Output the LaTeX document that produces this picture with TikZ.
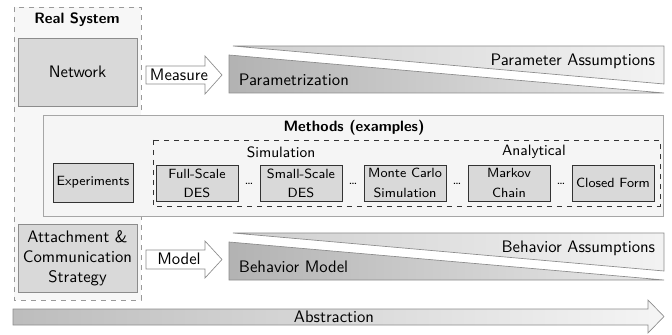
\documentclass[tikz,border=0pt]{standalone}
\usepackage{tikz}
\usetikzlibrary{calc}
\usetikzlibrary{positioning}

\begin{document}
\begin{tikzpicture}[x=0.6pt,y=-0.6pt,font=\sffamily,
    sysbox/.style={draw=gray!90, fill=gray!30, align=center, inner sep=0pt,
      minimum width=71.4pt, minimum height=40.8pt},
    methbox/.style={draw=black!80, fill=gray!30, align=center, inner sep=0pt,
      font=\sffamily\footnotesize, minimum width=49.2pt, minimum height=21.6pt},
    blockarrow/.style={draw=gray!90, fill=white},
    wedgedark/.style={draw=gray!90, left color=gray!60, right color=gray!18},
    wedgelight/.style={draw=gray!90, left color=gray!38, right color=gray!10},
    grouplabel/.style={font=\sffamily\small\bfseries}]
    %% \draw[help lines] (0,0) grid[step=50] (672,335);
    \useasboundingbox (0,0) rectangle (672,335);

    %% real system
    \draw[gray!80, dashed, fill=gray!6] (14,7) rectangle (141,300);
    \node[grouplabel] (RS) at (77,20) {Real System};
    \node[sysbox] (Net) at (77.5,72) {Network};
    \node[sysbox] (Att) at (77.5,258.5) {Attachment \&\\Communication\\Strategy};

    %% parametrization
    \draw[blockarrow] (146,66) -- (205,66) -- (205,56) -- (222,75) -- (205,94)
      -- (205,84) -- (146,84) -- cycle;
    \node (Meas) at (179,75) {Measure};
    \draw[wedgelight] (233,46) -- (664,46) -- (664,84) -- cycle;
    \draw[wedgedark] (229,55) -- (229,93) -- (664,93) -- cycle;
    \node[anchor=east] (PA) at (661,61) {Parameter Assumptions};
    \node[anchor=west] (Par) at (233,80) {Parametrization};

    %% methods
    \draw[gray!70, fill=gray!8] (43,115) rectangle (663,216);
    \node[grouplabel] (Meth) at (354,128) {Methods (examples)};
    \draw[black!80, dashed] (153,140) rectangle (660,206);
    \node[font=\sffamily\small] (Sim) at (281,152) {Simulation};
    \node[font=\sffamily\small] (Ana) at (534,152) {Analytical};
    \node[methbox, minimum width=48pt, minimum height=23.4pt] (Exp) at (93,182.5) {Experiments};
    \node[methbox] (FS) at (197,183) {Full-Scale\\[2pt]DES};
    \node[methbox] (SS) at (301,183) {Small-Scale\\[2pt]DES};
    \node[methbox] (MC) at (405,183) {Monte Carlo\\[2pt]Simulation};
    \node[methbox] (MK) at (509,183) {Markov\\[2pt]Chain};
    \node[methbox] (CF) at (613,183) {Closed Form};
    \foreach \x/\n in {249/d1,353/d2,457/d3,561/d4}
      \node[font=\sffamily\footnotesize, inner sep=0pt] (\n) at (\x,184) {\dots};

    %% behavior model
    \draw[blockarrow] (146,250) -- (205,250) -- (205,241) -- (222,259.5) -- (205,278)
      -- (205,269) -- (146,269) -- cycle;
    \node (Mod) at (179,259) {Model};
    \draw[wedgelight] (233,233) -- (664,233) -- (664,271) -- cycle;
    \draw[wedgedark] (229,242) -- (229,280) -- (664,280) -- cycle;
    \node[anchor=east] (BA) at (661,248) {Behavior Assumptions};
    \node[anchor=west] (BM) at (233,267) {Behavior Model};

    %% abstraction
    \draw[draw=gray!90, left color=gray!52, right color=gray!8] (13,309) -- (648,309)
      -- (648,300) -- (664,316.5) -- (648,333) -- (648,325) -- (13,325) -- cycle;
    \node (Abs) at (334,317) {Abstraction};
  \end{tikzpicture}
\end{document}
